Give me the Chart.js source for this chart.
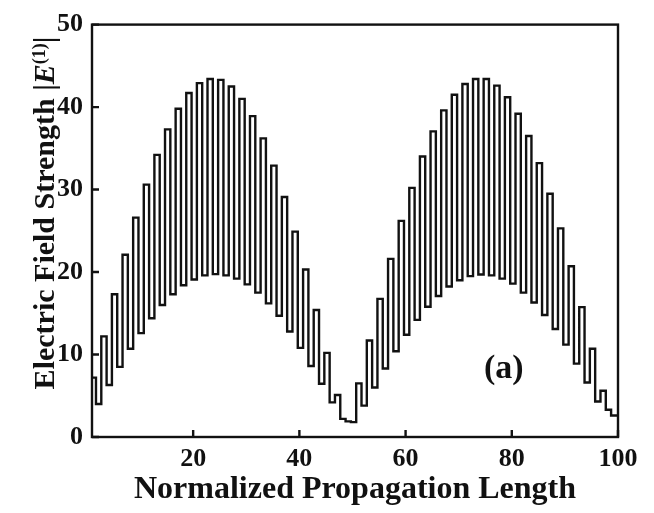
<!DOCTYPE html>
<html>
<head>
<meta charset="utf-8">
<script src="https://cdn.jsdelivr.net/npm/chart.js@4.4.1/dist/chart.umd.min.js"></script>
<style>
  html, body { margin: 0; padding: 0; background: #fff; }
</style>
</head>
<body>
<canvas id="fieldChart" width="654" height="513"></canvas>
<script>
// |E(1)| held constant over each unit segment of propagation length
const fieldStrength = [
  7.2, 4.0, 12.2, 6.3, 17.3, 8.5, 22.1, 10.7, 26.6, 12.6,
  30.6, 14.4, 34.2, 16.0, 37.3, 17.3, 39.8, 18.4, 41.7, 19.1,
  42.9, 19.6, 43.4, 19.75, 43.3, 19.6, 42.5, 19.2, 41.0, 18.5,
  38.9, 17.5, 36.2, 16.2, 32.9, 14.7, 29.1, 12.8, 24.9, 10.8,
  20.3, 8.6, 15.4, 6.45, 10.2, 4.2, 5.1, 2.2, 1.9, 1.8,
  6.5, 3.8, 11.7, 6.0, 16.75, 8.3, 21.6, 10.4, 26.2, 12.4,
  30.2, 14.2, 34.0, 15.8, 37.05, 17.1, 39.6, 18.25, 41.5, 19.0,
  42.8, 19.5, 43.4, 19.7, 43.4, 19.6, 42.6, 19.2, 41.2, 18.6,
  39.2, 17.5, 36.5, 16.3, 33.2, 14.8, 29.5, 13.1, 25.3, 11.2,
  20.7, 8.9, 15.75, 6.6, 10.7, 4.3, 5.6, 3.3, 2.6
];
const xTicks = [20, 40, 60, 80, 100];
const yTicks = [0, 10, 20, 30, 40, 50];
const xRange = [0.95, 100];
const yRange = [0, 50];
const segStart = 0.7; // first segment begins just left of the axis

const serif = "'Liberation Serif', 'Times New Roman', serif";
const ink = '#111';

// each value holds from its own x to the next one; last one runs to the frame
const points = fieldStrength.map((v, i) => ({ x: i + segStart, y: v }));
points.push({ x: xRange[1], y: fieldStrength[fieldStrength.length - 1] });

// box frame, inward tick marks, y title with italic E and superscript, panel tag
const decorations = {
  id: 'decorations',
  afterDraw(chart) {
    const { ctx, chartArea: a, scales: { x, y } } = chart;
    ctx.save();
    ctx.strokeStyle = ink;
    ctx.lineWidth = 2.4;
    ctx.strokeRect(a.left, a.top, a.right - a.left, a.bottom - a.top);
    ctx.beginPath();
    xTicks.forEach(v => {
      const px = x.getPixelForValue(v);
      ctx.moveTo(px, a.bottom);
      ctx.lineTo(px, a.bottom - 7);
    });
    yTicks.forEach(v => {
      const py = y.getPixelForValue(v);
      ctx.moveTo(a.left, py);
      ctx.lineTo(a.left + 7, py);
    });
    ctx.stroke();

    ctx.fillStyle = ink;
    ctx.translate(54, 213);
    ctx.rotate(-Math.PI / 2);
    const parts = [
      { text: 'Electric Field Strength |', font: 'bold 30px ' + serif, dy: 0 },
      { text: 'E', font: 'italic bold 30px ' + serif, dy: 0 },
      { text: '(1)', font: 'bold 18px ' + serif, dy: -9 },
      { text: '|', font: 'bold 30px ' + serif, dy: 0 }
    ];
    let total = 0;
    parts.forEach(p => { ctx.font = p.font; p.w = ctx.measureText(p.text).width; total += p.w; });
    let cx = -total / 2;
    ctx.textBaseline = 'alphabetic';
    parts.forEach(p => { ctx.font = p.font; ctx.fillText(p.text, cx, p.dy); cx += p.w; });
    ctx.restore();

    ctx.save();
    ctx.fillStyle = ink;
    ctx.font = 'bold 34px ' + serif;
    ctx.textAlign = 'center';
    ctx.textBaseline = 'middle';
    ctx.fillText('(a)', x.getPixelForValue(78.5), y.getPixelForValue(8.2));
    ctx.restore();
  }
};

const ctx = document.getElementById('fieldChart').getContext('2d');
const fieldChart = new Chart(ctx, {
  type: 'line',
  data: {
    datasets: [{
      data: points,
      stepped: 'before',
      borderColor: ink,
      borderWidth: 2.4,
      pointRadius: 0,
      fill: false
    }]
  },
  options: {
    responsive: false,
    animation: false,
    layout: { padding: { top: 16, right: 36, left: 0, bottom: 0 } },
    plugins: { legend: { display: false }, tooltip: { enabled: false } },
    scales: {
      x: {
        type: 'linear',
        min: xRange[0],
        max: xRange[1],
        afterBuildTicks: s => { s.ticks = xTicks.map(v => ({ value: v })); },
        afterFit: s => { s.height = 76; },
        grid: { display: false, drawTicks: false },
        border: { display: false },
        ticks: { color: ink, padding: 7, font: { family: serif, size: 26, weight: 'bold' } },
        title: {
          display: true,
          text: 'Normalized Propagation Length',
          color: ink,
          padding: { top: 0, bottom: 4 },
          font: { family: serif, size: 32, weight: 'bold' }
        }
      },
      y: {
        min: yRange[0],
        max: yRange[1],
        afterBuildTicks: s => { s.ticks = yTicks.map(v => ({ value: v })); },
        afterFit: s => { s.width = 92; },
        grid: { display: false, drawTicks: false },
        border: { display: false },
        ticks: { color: ink, padding: 9, font: { family: serif, size: 26, weight: 'bold' } }
      }
    }
  },
  plugins: [decorations]
});
</script>
</body>
</html>
